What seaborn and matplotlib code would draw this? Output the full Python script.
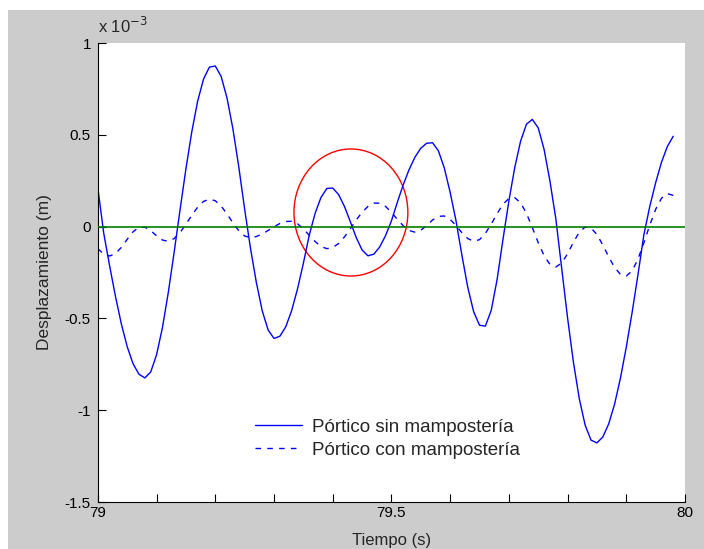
import matplotlib
matplotlib.use("Agg")
import matplotlib.pyplot as plt
from matplotlib.patches import Ellipse, Rectangle
import numpy as np
import pandas as pd
import seaborn as sns

# Time axis (s), sampled every 0.01 s
tiempo = [round(79 + 0.01 * i, 2) for i in range(99)]

# Displacement, in units of 1e-3 m
sin_mamp = [
    0.210, -0.036, -0.213, -0.380, -0.530, -0.654, -0.747, -0.804, -0.824, -0.792,
    -0.698, -0.550, -0.358, -0.138, 0.092, 0.315, 0.517, 0.684, 0.804, 0.869,
    0.875, 0.818, 0.700, 0.533, 0.326, 0.095, -0.119, -0.305, -0.459, -0.563,
    -0.609, -0.597, -0.546, -0.458, -0.340, -0.200, -0.047, 0.072, 0.159, 0.208,
    0.210, 0.175, 0.110, 0.027, -0.059, -0.127, -0.159, -0.150, -0.111, -0.049,
    0.031, 0.132, 0.227, 0.310, 0.378, 0.427, 0.454, 0.457, 0.413, 0.320,
    0.187, 0.032, -0.155, -0.330, -0.463, -0.537, -0.542, -0.456, -0.288, -0.069,
    0.139, 0.321, 0.466, 0.558, 0.584, 0.538, 0.421, 0.248, 0.043, -0.227,
    -0.497, -0.739, -0.938, -1.082, -1.163, -1.178, -1.146, -1.075, -0.968, -0.826,
    -0.657, -0.466, -0.260, -0.044, 0.110, 0.239, 0.351, 0.437, 0.492,
]

con_mamp = [
    -0.120, -0.150, -0.160, -0.147, -0.113, -0.069, -0.028, -0.003, -0.003, -0.022,
    -0.050, -0.073, -0.080, -0.065, -0.032, 0.013, 0.062, 0.106, 0.137, 0.150,
    0.141, 0.112, 0.069, 0.021, -0.022, -0.051, -0.060, -0.054, -0.040, -0.021,
    -0.001, 0.017, 0.028, 0.029, 0.016, -0.012, -0.047, -0.081, -0.108, -0.120,
    -0.114, -0.092, -0.056, -0.012, 0.036, 0.078, 0.110, 0.128, 0.128, 0.110,
    0.078, 0.040, 0.005, -0.021, -0.030, -0.020, 0.006, 0.036, 0.056, 0.058,
    0.039, 0.006, -0.033, -0.065, -0.080, -0.071, -0.037, 0.014, 0.071, 0.122,
    0.153, 0.158, 0.130, 0.072, -0.005, -0.087, -0.158, -0.206, -0.220, -0.198,
    -0.148, -0.085, -0.030, -0.002, -0.008, -0.043, -0.100, -0.164, -0.222, -0.260,
    -0.269, -0.241, -0.176, -0.088, 0.008, 0.094, 0.155, 0.180, 0.170,
]

# Highlight circle (centre and diameters, data units)
circulo_centro = (79.431, 0.077)
circulo_ancho = 0.194
circulo_alto = 0.692

x_ticks = [79, 79.1, 79.2, 79.3, 79.4, 79.5, 79.6, 79.7, 79.8, 79.9, 80]
x_labels = ["79", "", "", "", "", "79.5", "", "", "", "", "80"]
y_ticks = [-1.5, -1, -0.5, 0, 0.5, 1]
y_labels = ["-1.5", "-1", "-0.5", "0", "0.5", "1"]

df = pd.DataFrame({"t": tiempo, "sin": sin_mamp, "con": con_mamp})

sns.set_style("ticks")
plt.rcParams["font.family"] = ["Liberation Sans", "DejaVu Sans"]
plt.rcParams["font.size"] = 11

fig = plt.figure(figsize=(7.04, 5.49), dpi=100, facecolor="white")
# gray MATLAB-like window background
fig.patches.append(Rectangle((8 / 704, 0), 1, 539 / 549, transform=fig.transFigure,
                             facecolor="#cccccc", edgecolor="none", zorder=-10))
ax = fig.add_axes([0.139, 0.0856, 0.834, 0.836])
ax.set_facecolor("white")

sns.lineplot(data=df, x="t", y="sin", ax=ax, color="#0000ff", lw=1.0,
             label="Pórtico sin mampostería", sort=False)
sns.lineplot(data=df, x="t", y="con", ax=ax, color="#0000ff", lw=1.0,
             linestyle=(0, (4, 4.5)), label="Pórtico con mampostería", sort=False)
ax.plot([79, 80], [0, 0], color="#008000", lw=1.2, zorder=3)

ax.add_patch(Ellipse(circulo_centro, circulo_ancho, circulo_alto, fill=False,
                     edgecolor="#ff0000", lw=1.0, zorder=1))

ax.set_xlim(79, 80)
ax.set_ylim(-1.5, 1)
ax.set_xticks(x_ticks, labels=x_labels)
ax.set_yticks(y_ticks, labels=y_labels)
ax.tick_params(axis="both", direction="in", length=5.5, width=0.8, colors="black", labelsize=11)
ax.tick_params(axis="y", pad=5)
ax.tick_params(axis="x", pad=3)

for s in ["top", "right"]:
    ax.spines[s].set_visible(False)
for s in ["left", "bottom"]:
    ax.spines[s].set_color("black")
    ax.spines[s].set_linewidth(0.8)

ax.set_xlabel("Tiempo (s)", fontsize=12, labelpad=9)
ax.set_ylabel("Desplazamiento (m)", fontsize=12.5, labelpad=9)
ax.text(0.0, 1.015, r"x 10$^{-3}$", transform=ax.transAxes, ha="left", va="bottom", fontsize=12)

ax.legend(loc="upper left", bbox_to_anchor=(0.267, 0.181), frameon=False,
          borderpad=0, borderaxespad=0, handlelength=2.55, handletextpad=0.53,
          labelspacing=0.3, fontsize=13.5)

fig.savefig("out.png", dpi=100, facecolor=fig.get_facecolor())
